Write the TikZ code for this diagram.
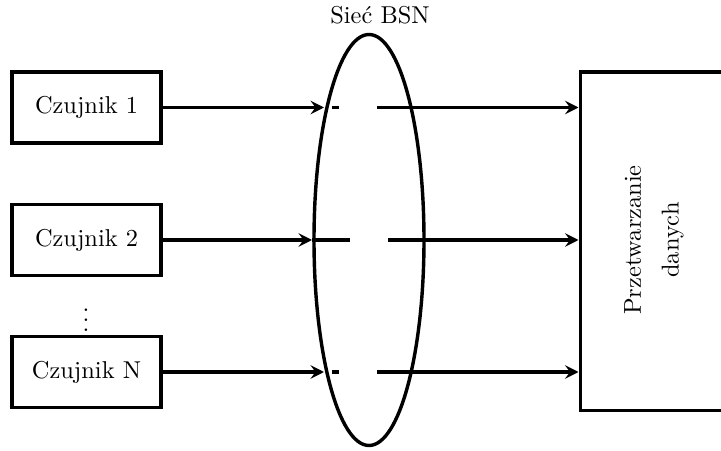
\documentclass[tikz,border=0pt]{standalone}
\usepackage{fontspec}
\usetikzlibrary{shapes.geometric,arrows.meta,calc}
\begin{document}
\begin{tikzpicture}[x=0.41pt,y=-0.41pt,
  sensor/.style={draw,line width=1.6pt,minimum width=149*0.41pt,minimum height=71*0.41pt,inner sep=0pt},
  conn/.style={line width=1.5pt},
  arr/.style={conn,-{Stealth[length=5.5pt,width=5.5pt,inset=2pt]}}]
\clip (0,0) rectangle (721,451);
\node[sensor] (s1) at (86.5,107.5) {Czujnik 1};
\node[sensor] (s2) at (86.5,240) {Czujnik 2};
\node[sensor] (sN) at (86.5,372) {Czujnik N};
\node (dots) at (86,313) {$\vdots$};
\node[draw,ellipse,line width=1.4pt,minimum width=110*0.41pt,minimum height=411*0.41pt,inner sep=0pt] (net) at (369,240) {};
\node (netlabel) at (380,15) {Sieć BSN};
\node[draw,line width=1.6pt,anchor=north west,minimum width=200*0.41pt,minimum height=338*0.41pt,inner sep=0pt] (proc) at (578.5,70.5) {};
\node[rotate=90,align=center] (proclabel) at (654,240) {Przetwarzanie\\[3.5pt]danych};
% row 1
\coordinate (a1) at (324,107.5);
\coordinate (d1s) at (332,107.5);
\coordinate (d1e) at (339,107.5);
\coordinate (b1) at (377,107.5);
\draw[arr] (s1.east) -- (a1);
\draw[conn] (d1s) -- (d1e);
\draw[arr] (b1) -- (b1 -| proc.west);
% row 2
\coordinate (a2) at (312,240);
\coordinate (d2e) at (350,240);
\coordinate (b2) at (388,240);
\draw[arr] (s2.east) -- (a2);
\draw[conn] (a2) -- (d2e);
\draw[arr] (b2) -- (b2 -| proc.west);
% row N
\coordinate (aN) at (324,372);
\coordinate (dNs) at (332,372);
\coordinate (dNe) at (339,372);
\coordinate (bN) at (377,372);
\draw[arr] (sN.east) -- (aN);
\draw[conn] (dNs) -- (dNe);
\draw[arr] (bN) -- (bN -| proc.west);
\end{tikzpicture}
\end{document}
